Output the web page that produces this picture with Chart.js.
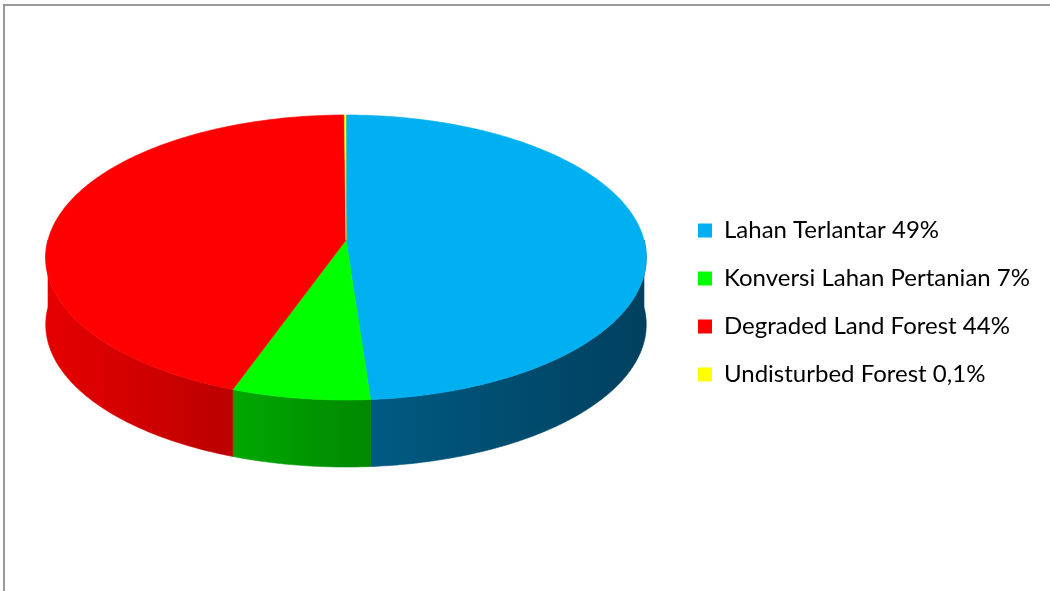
<!DOCTYPE html>
<html>
<head>
<meta charset="utf-8">
<script src="https://cdn.jsdelivr.net/npm/chart.js@4"></script>
<style>
  html, body { margin: 0; padding: 0; background: #fff; }
  #wrap { position: relative; width: 1050px; height: 591px; overflow: hidden; }
  #frame { position: absolute; left: 3px; top: 4px; width: 1100px; height: 700px;
           border-left: 2px solid #9a9a9a; border-top: 2px solid #9a9a9a; }
  #chart { position: absolute; left: 0; top: 0; }
</style>
</head>
<body>
<div id="wrap">
  <div id="frame"></div>
  <canvas id="chart" width="1050" height="591"></canvas>
</div>
<script>
// slices, clockwise from 12 o'clock
const labels = ['Lahan Terlantar 49%', 'Konversi Lahan Pertanian 7%', 'Degraded Land Forest 44%', 'Undisturbed Forest 0,1%'];
const values = [48.8, 6.6, 44.4, 0.1];
const topColors = ['#00b0f0', '#00ff00', '#ff0000', '#ffff00'];
const sideColors = [['#005a82', '#00405e'], ['#00a800', '#008800'], ['#e60000', '#bb0000'], ['#c8c800', '#a0a000']];

// draws the pie as a tilted disc with a wall, using the angles chart.js computed
const pie3d = {
    id: 'pie3d',
    beforeDatasetsDraw(chart, args, opts) {
        const ctx = chart.ctx;
        const arcs = chart.getDatasetMeta(0).data;
        const { cx, cy, rx, ry, depth, k } = opts;
        const proj = a => {
            const u = Math.cos(a), v = Math.sin(a), w = 1 + k * v;
            return [cx + rx * u / w, cy + ry * v / w];
        };
        const steps = (a0, a1) => {
            const n = Math.max(2, Math.ceil((a1 - a0) / 0.01));
            const pts = [];
            for (let i = 0; i <= n; i++) pts.push(proj(a0 + (a1 - a0) * i / n));
            return pts;
        };

        ctx.save();
        // front wall
        arcs.forEach((arc, i) => {
            [0, 2 * Math.PI].forEach(off => {
                const a0 = Math.max(arc.startAngle, off), a1 = Math.min(arc.endAngle, off + Math.PI);
                if (a1 <= a0) return;
                const top = steps(a0, a1);
                const xs = top.map(p => p[0]);
                const g = ctx.createLinearGradient(Math.min(...xs), 0, Math.max(...xs), 0);
                g.addColorStop(0, sideColors[i][0]);
                g.addColorStop(1, sideColors[i][1]);
                ctx.beginPath();
                top.forEach((p, j) => j ? ctx.lineTo(p[0], p[1]) : ctx.moveTo(p[0], p[1]));
                for (let j = top.length - 1; j >= 0; j--) ctx.lineTo(top[j][0], top[j][1] + depth);
                ctx.closePath();
                ctx.fillStyle = g;
                ctx.fill();
                ctx.strokeStyle = g;
                ctx.lineWidth = 0.6;
                ctx.stroke();
            });
        });
        // top face
        arcs.forEach((arc, i) => {
            const pts = steps(arc.startAngle, arc.endAngle);
            ctx.beginPath();
            ctx.moveTo(cx, cy);
            pts.forEach(p => ctx.lineTo(p[0], p[1]));
            ctx.closePath();
            ctx.fillStyle = topColors[i];
            ctx.fill();
            ctx.strokeStyle = topColors[i];
            ctx.lineWidth = 0.6;
            ctx.stroke();
        });
        ctx.restore();
        return false;
    }
};

const ctx = document.getElementById('chart').getContext('2d');
new Chart(ctx, {
    type: 'pie',
    data: {
        labels: labels,
        datasets: [{
            data: values,
            backgroundColor: topColors,
            borderWidth: 0
        }]
    },
    options: {
        responsive: false,
        animation: false,
        layout: { padding: { top: 14, right: 10 } },
        plugins: {
            legend: {
                position: 'right',
                labels: {
                    boxWidth: 14,
                    boxHeight: 14,
                    padding: 24,
                    color: '#000',
                    font: { family: 'Lato', size: 24 }
                }
            },
            tooltip: { enabled: false },
            pie3d: { cx: 346, cy: 240, rx: 298, ry: 140.35, k: -0.1228, depth: 67 }
        }
    },
    plugins: [pie3d]
});
</script>
</body>
</html>
